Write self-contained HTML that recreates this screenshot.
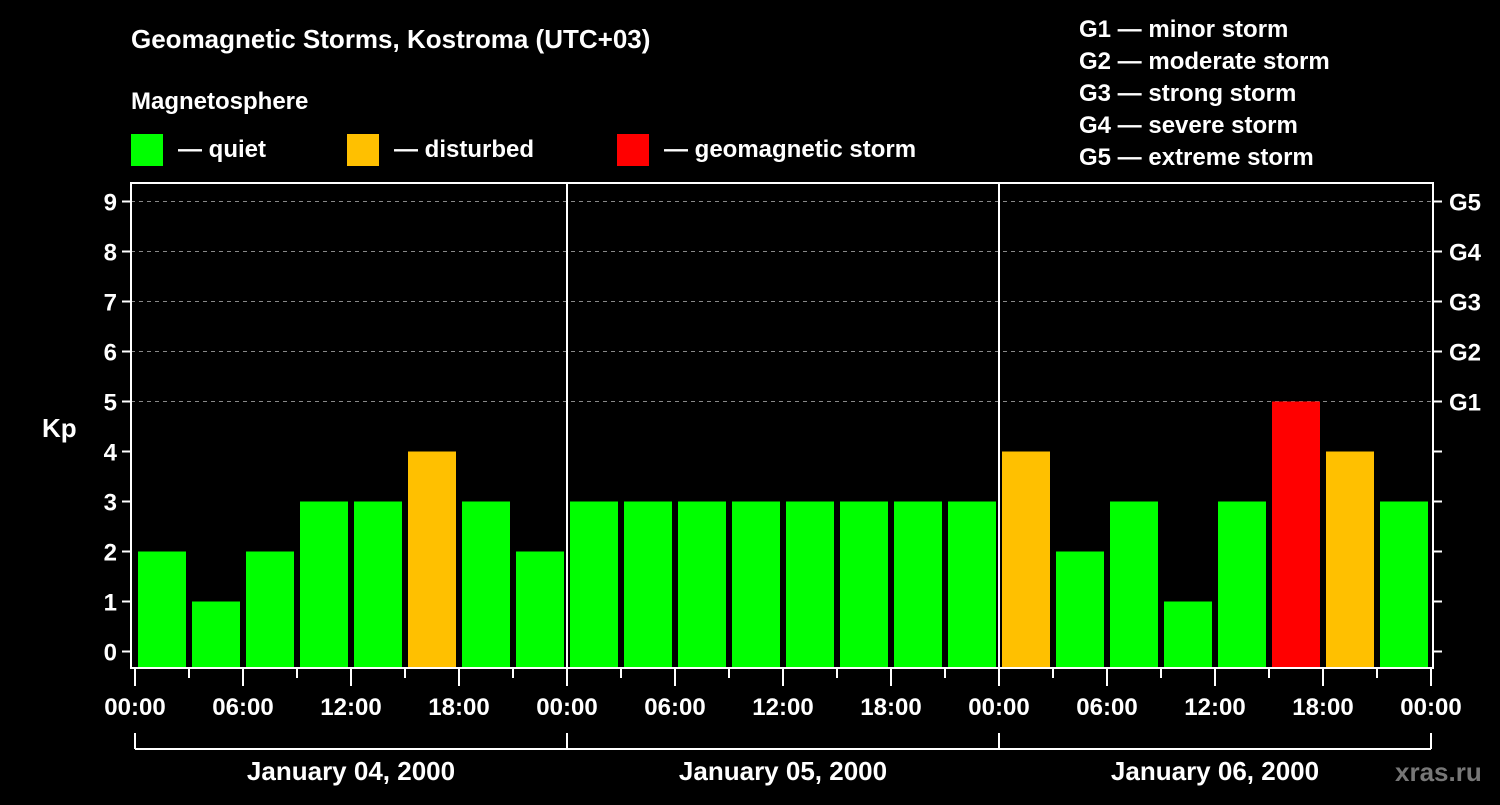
<!DOCTYPE html>
<html><head><meta charset="utf-8"><style>
body{margin:0;background:#000;width:1500px;height:800px;overflow:hidden}
svg text{font-family:"Liberation Sans",sans-serif;font-weight:bold;fill:#fff}
</style></head><body>
<svg id="chart" width="1500" height="800" xmlns="http://www.w3.org/2000/svg">
<rect width="1500" height="800" fill="#000"/>
<text x="131" y="48" font-size="26">Geomagnetic Storms, Kostroma (UTC+03)</text>
<text x="131" y="109" font-size="24">Magnetosphere</text>
<g><rect x="131" y="134" width="32" height="32" fill="#00ff00"/><text x="178" y="157" font-size="24">— quiet</text></g>
<g><rect x="347" y="134" width="32" height="32" fill="#ffc000"/><text x="394" y="157" font-size="24">— disturbed</text></g>
<g><rect x="617" y="134" width="32" height="32" fill="#ff0000"/><text x="664" y="157" font-size="24">— geomagnetic storm</text></g>
<g font-size="24">
<text x="1079" y="37">G1 — minor storm</text>
<text x="1079" y="69">G2 — moderate storm</text>
<text x="1079" y="101">G3 — strong storm</text>
<text x="1079" y="133">G4 — severe storm</text>
<text x="1079" y="165">G5 — extreme storm</text>
</g>
<text x="42" y="437" font-size="26">Kp</text>
<g id="grid"></g><g id="bars"></g><g id="axes"></g>
<text x="1395" y="781" font-size="26" fill="#777" style="fill:#777">xras.ru</text>
</svg>
<script>
const days=["January 04, 2000","January 05, 2000","January 06, 2000"];
const kpValues=[2,1,2,3,3,4,3,2, 3,3,3,3,3,3,3,3, 4,2,3,1,3,5,4,3];
const yTicks=[0,1,2,3,4,5,6,7,8,9];
const gLabels=["G1","G2","G3","G4","G5"];
const hourLabels=["00:00","06:00","12:00","18:00"];
const NS="http://www.w3.org/2000/svg";
const L=131,R=1433,T=183,B=668,X0=135,DAYW=432;
const y=v=>651.5-50*v;
const x=h=>X0+h*DAYW/24;
function mk(p,t,a){const e=document.createElementNS(NS,t);for(const k in a)e.setAttribute(k,a[k]);p.appendChild(e);return e;}
const grid=document.getElementById('grid'),bars=document.getElementById('bars'),axes=document.getElementById('axes');
mk(grid,'rect',{x:L,y:T,width:R-L,height:B-T,fill:'#000'});
yTicks.forEach(v=>{
 if(v>=5){const g=mk(grid,'line',{x1:L,x2:R,y1:y(v),y2:y(v),stroke:'#888','stroke-width':1,'stroke-dasharray':'4 4'});
 
 }
 mk(axes,'line',{x1:L-9,x2:L,y1:y(v),y2:y(v),stroke:'#fff','stroke-width':2});
 mk(axes,'line',{x1:R,x2:R+9,y1:y(v),y2:y(v),stroke:'#fff','stroke-width':2});
 const t=mk(axes,'text',{x:L-14,y:y(v)+9,'font-size':24,'text-anchor':'end'});t.textContent=v;
 
 
});
gLabels.forEach((g,i)=>{const t=mk(axes,'text',{x:1449,y:y(5+i)+9,'font-size':24});t.textContent=g;
 
 });
kpValues.forEach((v,i)=>{
 const c=v>=5?'#ff0000':(v>=4?'#ffc000':'#00ff00');
 const r=mk(bars,'rect',{x:x(i*3)+3,y:y(v),width:48,height:B-y(v),fill:c});
 
 
});
mk(axes,'rect',{x:L,y:T,width:R-L,height:B-T,fill:'none',stroke:'#fff','stroke-width':2});
for(let d=1;d<days.length;d++)mk(axes,'line',{x1:x(24*d),x2:x(24*d),y1:T,y2:B,stroke:'#fff','stroke-width':2});
for(let h=0;h<=24*days.length;h+=3){
 const major=h%6===0;
 mk(axes,'line',{x1:x(h),x2:x(h),y1:B,y2:B+(major?18:10),stroke:'#fff','stroke-width':2});
 if(major){const t=mk(axes,'text',{x:x(h),y:715,'font-size':24,'text-anchor':'middle'});t.textContent=hourLabels[(h/6)%4];
 
 }
}
mk(axes,'line',{x1:x(0),x2:x(24*days.length),y1:749,y2:749,stroke:'#fff','stroke-width':2});
for(let d=0;d<=days.length;d++)mk(axes,'line',{x1:x(24*d),x2:x(24*d),y1:733,y2:749,stroke:'#fff','stroke-width':2});
days.forEach((s,d)=>{const t=mk(axes,'text',{x:x(24*d+12),y:780,'font-size':26,'text-anchor':'middle'});t.textContent=s;
 
 });
</script>
</body></html>
